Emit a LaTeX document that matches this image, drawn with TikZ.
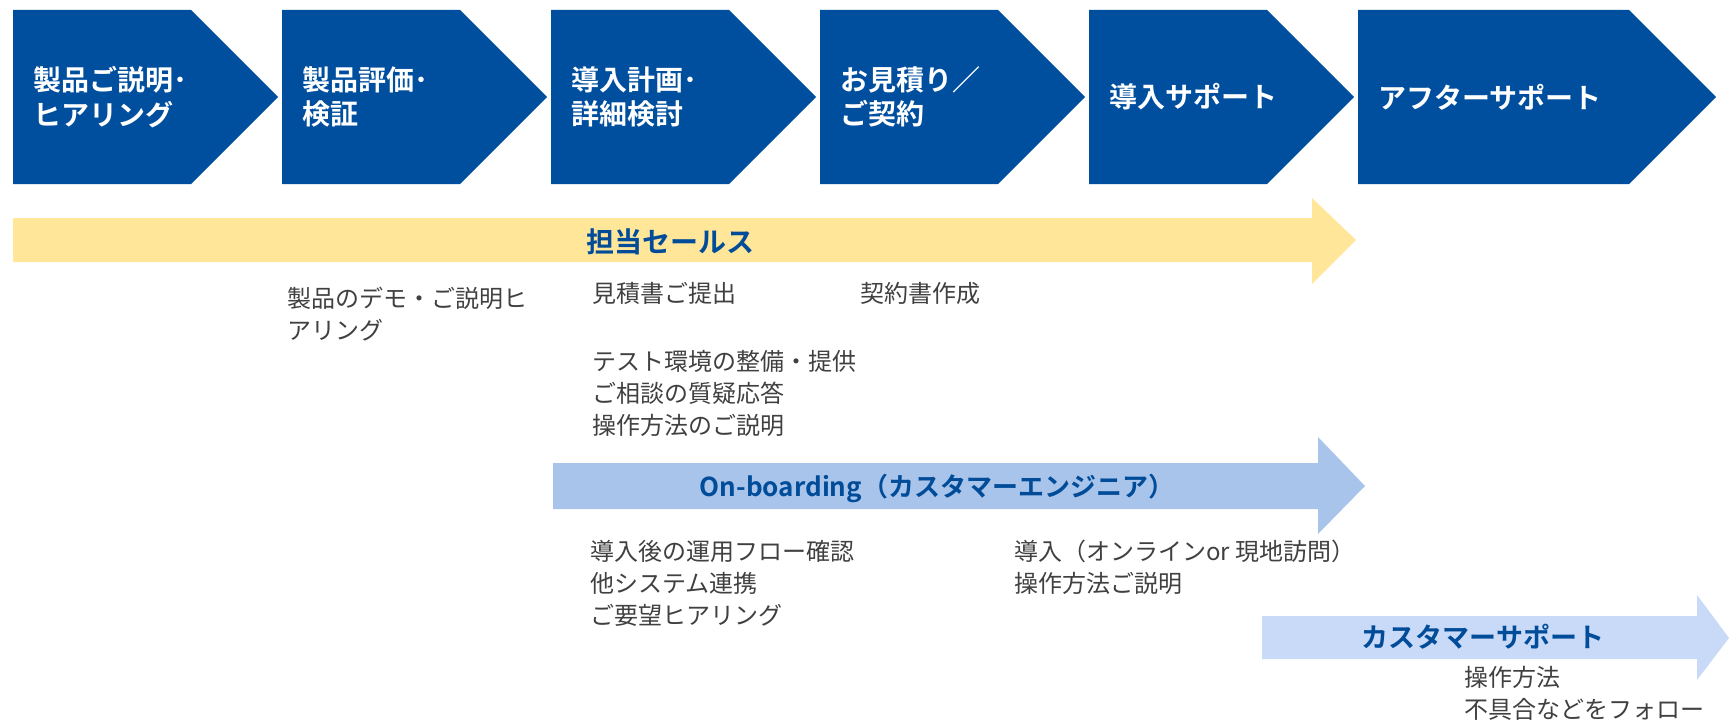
\documentclass[tikz,border=0pt]{standalone}
\usepackage{fontspec}
\setmainfont{Noto Sans CJK JP}[BoldFont={Noto Sans CJK JP Bold}]
\definecolor{chev}{RGB}{0,79,159}
\definecolor{lbl}{RGB}{0,76,153}
\definecolor{ylw}{RGB}{255,230,153}
\definecolor{obc}{RGB}{169,196,235}
\definecolor{csc}{RGB}{201,218,248}
\definecolor{bodyc}{RGB}{64,64,64}
\begin{document}
\begin{tikzpicture}[x=0.5pt,y=-0.5pt,
  chevtext/.style={anchor=west,text=white,font=\bfseries\fontsize{14}{17.25}\selectfont,align=left,inner sep=0pt},
  bodytext/.style={anchor=base west,text=bodyc,font=\fontsize{12}{16}\selectfont,align=left,inner sep=0pt},
  arrowlabel/.style={anchor=base,text=lbl,font=\bfseries\fontsize{13.5}{16}\selectfont,inner sep=0pt}]
\useasboundingbox (0,0) rectangle (1729,722);
% chevrons
\fill[chev] (13,10) -- (191,10) -- (278,97) -- (191,184) -- (13,184) -- cycle;
\fill[chev] (282,10) -- (460,10) -- (547,97) -- (460,184) -- (282,184) -- cycle;
\fill[chev] (551,10) -- (729,10) -- (816,97) -- (729,184) -- (551,184) -- cycle;
\fill[chev] (820,10) -- (998,10) -- (1085,97) -- (998,184) -- (820,184) -- cycle;
\fill[chev] (1089,10) -- (1267,10) -- (1354,97) -- (1267,184) -- (1089,184) -- cycle;
\fill[chev] (1358,10) -- (1629,10) -- (1716,97) -- (1629,184) -- (1358,184) -- cycle;
\node[chevtext] (c1) at (33,97) {製品ご説明･\\ヒアリング};
\node[chevtext] (c2) at (302,97) {製品評価･\\検証};
\node[chevtext] (c3) at (571,97) {導入計画･\\詳細検討};
\node[chevtext] (c4) at (840,97) {お見積り／\\ご契約};
\node[chevtext] (c5) at (1109,97) {導入サポート};
\node[chevtext] (c6) at (1378,97) {アフターサポート};
% band arrows
\fill[ylw] (13,218) -- (1312,218) -- (1312,198) -- (1356,240) -- (1312,284) -- (1312,262) -- (13,262) -- cycle;
\fill[obc] (553,463) -- (1318,463) -- (1318,437) -- (1365,486) -- (1318,534) -- (1318,509) -- (553,509) -- cycle;
\fill[csc] (1262,616) -- (1697,616) -- (1697,595) -- (1729,638) -- (1697,680) -- (1697,659) -- (1262,659) -- cycle;
\node[arrowlabel,font=\bfseries\fontsize{14}{16}\selectfont] (sales) at (670,252) {担当セールス};
\node[arrowlabel,font=\bfseries\fontsize{13}{16}\selectfont] (onb) at (937,496) {On-boarding（カスタマーエンジニア）};
\node[arrowlabel] (cs) at (1483,647) {カスタマーサポート};
% body texts (anchor = baseline of last line)
\node[bodytext] (t1) at (287,339) {製品のデモ・ご説明ヒ\\アリング};
\node[bodytext] (t2) at (592,302) {見積書ご提出};
\node[bodytext] (t3) at (860,302) {契約書作成};
\node[bodytext] (t4) at (592,434) {テスト環境の整備・提供\\ご相談の質疑応答\\操作方法のご説明};
\node[bodytext] (t5) at (590,624) {導入後の運用フロー確認\\他システム連携\\ご要望ヒアリング};
\node[bodytext] (t6) at (1014,592) {導入（オンラインor 現地訪問）\\操作方法ご説明};
\node[bodytext] (t7) at (1464,718) {操作方法\\不具合などをフォロー};
\end{tikzpicture}
\end{document}
